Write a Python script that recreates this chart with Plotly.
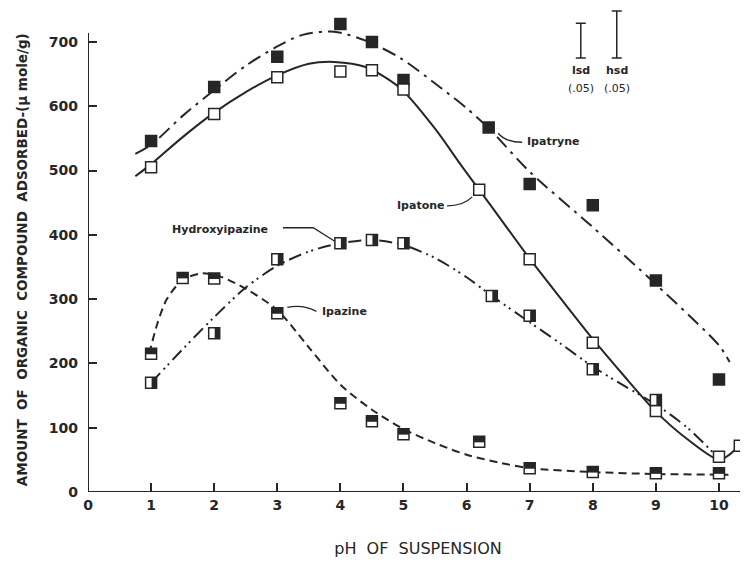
import plotly.graph_objects as go

# ---- measured points ----
ipatryne_ph = [1, 2, 3, 4, 4.5, 5, 6.35, 7, 8, 9, 10]
ipatryne_val = [546, 630, 677, 728, 700, 641, 567, 479, 446, 329, 175]

ipatone_ph = [1, 2, 3, 4, 4.5, 5, 6.2, 7, 8, 9, 10]
ipatone_val = [505, 588, 645, 654, 656, 626, 470, 362, 232, 126, 55]

hydroxy_ph = [1, 2, 3, 4, 4.5, 5, 6.4, 7, 8, 9, 10.33]
hydroxy_val = [170, 247, 362, 387, 392, 387, 305, 274, 191, 143, 72]

ipazine_ph = [1, 1.5, 2, 3, 4, 4.5, 5, 6.2, 7, 8, 9, 10]
ipazine_val = [215, 333, 332, 278, 138, 110, 90, 78, 37, 31, 29, 29]

# ---- hand-drawn fitted curves ----
ipatryne_curve_ph = [0.75, 1, 1.5, 2, 2.5, 3, 3.4, 3.9, 4.4, 4.95, 5.6, 6.0, 6.35, 7, 8, 9, 10, 10.17]
ipatryne_curve_val = [526, 540, 585, 625, 663, 693, 711, 716, 702, 675, 628, 597, 566, 498, 412, 323, 228, 202]

ipatone_curve_ph = [0.75, 1, 1.5, 2, 2.5, 3, 3.5, 3.9, 4.4, 4.95, 5.5, 5.9, 6.2, 6.5, 7, 7.5, 8, 8.5, 9, 9.5, 10, 10.15, 10.28]
ipatone_curve_val = [491, 510, 552, 590, 622, 648, 666, 669, 661, 628, 565, 510, 470, 430, 363, 300, 238, 180, 125, 82, 50, 57, 68]

hydroxy_curve_ph = [1, 1.5, 2, 2.5, 3, 3.5, 4, 4.5, 5, 5.5, 6, 6.4, 7, 7.5, 8, 8.5, 9, 9.5, 9.9]
hydroxy_curve_val = [170, 222, 272, 318, 352, 374, 387, 392, 384, 364, 334, 305, 264, 230, 195, 165, 136, 100, 62]

ipazine_curve_ph = [0.97, 1.1, 1.25, 1.5, 1.8, 2.1, 2.5, 3, 3.5, 4, 4.5, 5, 5.5, 6, 6.5, 7, 8, 9, 10, 10.15]
ipazine_curve_val = [215, 262, 300, 330, 340, 335, 316, 283, 225, 167, 128, 98, 76, 58, 46, 37, 31, 28, 27, 27]

x_ticks = [0, 1, 2, 3, 4, 5, 6, 7, 8, 9, 10]
y_ticks = [0, 100, 200, 300, 400, 500, 600, 700]

lsd_x, hsd_x = 7.81, 8.38
sd_base = 675
lsd_len, hsd_len = 54, 73

INK = "#262626"
FONT = "DejaVu Sans"

fig = go.Figure()

def curve(xs, ys, dash):
    fig.add_trace(go.Scatter(x=xs, y=ys, mode="lines",
                             line=dict(color=INK, width=2, dash=dash, shape="spline", smoothing=0.8),
                             hoverinfo="skip", showlegend=False))

curve(ipatryne_curve_ph, ipatryne_curve_val, "14px,6px,3px,6px")
curve(ipatone_curve_ph, ipatone_curve_val, "solid")
curve(hydroxy_curve_ph, hydroxy_curve_val, "13px,5px,2px,4px,2px,5px")
curve(ipazine_curve_ph, ipazine_curve_val, "8px,5px")

MS = 11
def pts(xs, ys, fill, name):
    fig.add_trace(go.Scatter(x=xs, y=ys, mode="markers", name=name,
                             marker=dict(symbol="square", size=MS, color=fill, line=dict(color=INK, width=1.5)),
                             showlegend=False, cliponaxis=False))

pts(ipatryne_ph, ipatryne_val, INK, "Ipatryne")
pts(ipatone_ph, ipatone_val, "white", "Ipatone")
pts(hydroxy_ph, hydroxy_val, "white", "Hydroxyipazine")
pts(ipazine_ph, ipazine_val, "white", "Ipazine")

shapes = []
h = MS / 2
for x, y in zip(hydroxy_ph, hydroxy_val):
    shapes.append(dict(type="rect", xref="x", yref="y", xsizemode="pixel", ysizemode="pixel",
                       xanchor=x, yanchor=y, x0=0.5, x1=h, y0=-h, y1=h,
                       fillcolor=INK, line=dict(width=0)))
for x, y in zip(ipazine_ph, ipazine_val):
    shapes.append(dict(type="rect", xref="x", yref="y", xsizemode="pixel", ysizemode="pixel",
                       xanchor=x, yanchor=y, x0=-h, x1=h, y0=-0.5, y1=h,
                       fillcolor=INK, line=dict(width=0)))

# axis lines
shapes.append(dict(type="line", xref="x", yref="y", x0=0, x1=10.46, y0=0, y1=0, line=dict(color=INK, width=2)))
shapes.append(dict(type="line", xref="x", yref="y", x0=0, x1=0, y0=0, y1=714, line=dict(color=INK, width=2)))

# leader lines
leader = dict(color=INK, width=1.3)
shapes.append(dict(type="path", xref="x", yref="y", path="M 6.50,558 Q 6.62,544 6.88,544", line=leader))
shapes.append(dict(type="path", xref="x", yref="y", path="M 5.69,445 Q 5.95,445 6.09,459", line=leader))
shapes.append(dict(type="path", xref="x", yref="y", path="M 3.09,411 L 3.57,411 L 3.91,390", line=leader))
shapes.append(dict(type="path", xref="x", yref="y", path="M 3.16,287 Q 3.40,292 3.62,281", line=leader))

fig.add_trace(go.Scatter(x=[lsd_x, hsd_x], y=[sd_base + lsd_len / 2, sd_base + hsd_len / 2], mode="markers",
                         marker=dict(size=1, color="rgba(0,0,0,0)"),
                         error_y=dict(type="data", array=[lsd_len / 2, hsd_len / 2], color=INK, thickness=1.5, width=5),
                         showlegend=False, hoverinfo="skip", cliponaxis=False))

ann = []
def label(x, y, text, size=11, xanchor="left"):
    ann.append(dict(x=x, y=y, xref="x", yref="y", text=text, showarrow=False, xanchor=xanchor, yanchor="middle",
                    font=dict(family=FONT, size=size, color=INK)))

label(6.93, 545, "<b>Ipatryne</b>")
label(4.86, 446, "<b>Ipatone</b>")
label(1.30, 408, "<b>Hydroxyipazine</b>")
label(3.68, 280, "<b>Ipazine</b>")
label(lsd_x, 655, "<b>lsd</b>", 11, "center")
label(lsd_x, 628, "(.05)", 11, "center")
label(hsd_x, 655, "<b>hsd</b>", 11, "center")
label(hsd_x, 628, "(.05)", 11, "center")

ann.append(dict(x=-0.1, y=0.479, xref="paper", yref="paper", xanchor="center", yanchor="middle",
                text="<b>AMOUNT  OF  ORGANIC  COMPOUND  ADSORBED-(μ mole/g)</b>",
                showarrow=False, textangle=-90, font=dict(family=FONT, size=13.5, color=INK)))

# page has an 8px body margin: figure sized so the plot area lands where the reference has it
fig.update_layout(
    width=740, height=554, margin=dict(l=80, r=0, t=0, b=70),
    paper_bgcolor="white", plot_bgcolor="white",
    shapes=shapes, annotations=ann,
    xaxis=dict(range=[0, 10.46], tickvals=x_ticks, ticktext=[str(v) for v in x_ticks], ticks="inside", ticklen=9,
               tickwidth=2, tickcolor=INK, showgrid=False, zeroline=False, showline=False, ticklabelstandoff=3,
               tickfont=dict(family=FONT, size=14, color=INK, weight="bold"),
               title=dict(text="pH  OF  SUSPENSION", font=dict(family=FONT, size=16, color=INK), standoff=30)),
    yaxis=dict(range=[0, 752.8], tickvals=y_ticks, ticks="inside", ticklen=9, tickwidth=2, tickcolor=INK,
               showgrid=False, zeroline=False, showline=False, ticklabelstandoff=9,
               tickfont=dict(family=FONT, size=14, color=INK, weight="bold")),
    font=dict(family=FONT, color=INK),
)
fig.write_html("out.html")
